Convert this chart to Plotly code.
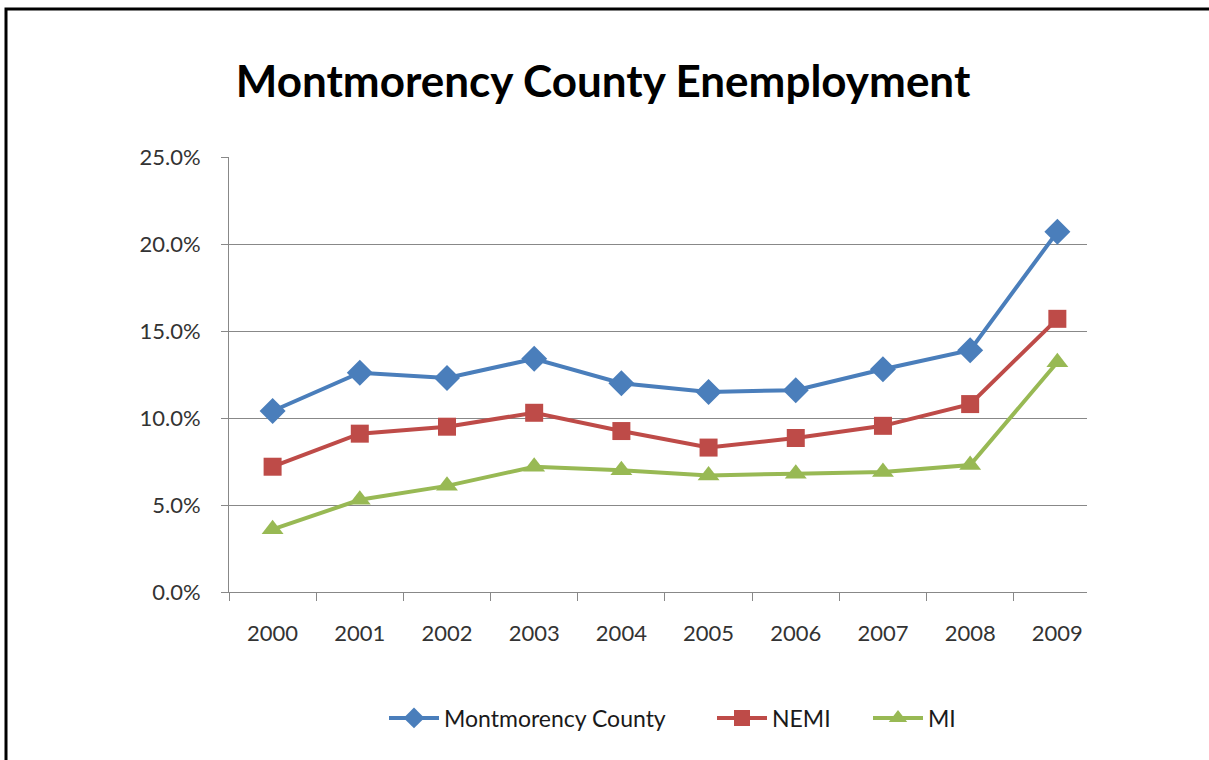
import plotly.graph_objects as go

years = ["2000", "2001", "2002", "2003", "2004", "2005", "2006", "2007", "2008", "2009"]
montmorency = [10.4, 12.6, 12.3, 13.4, 12.0, 11.5, 11.6, 12.8, 13.9, 20.7]
nemi = [7.2, 9.1, 9.5, 10.3, 9.25, 8.3, 8.85, 9.55, 10.8, 15.7]
mi = [3.6, 5.3, 6.1, 7.2, 7.0, 6.7, 6.8, 6.9, 7.3, 13.2]

series = [
    ("Montmorency County", montmorency, "#4a7ebb", "diamond", 20, "legend", 384),
    ("NEMI", nemi, "#be4b48", "square", 18, "legend2", 712),
    ("MI", mi, "#98b954", "triangle-up", 19, "legend3", 868),
]

FONT = "Lato"
W, H = 1209, 760
L, R, T, B = 229, 1087, 157, 592

fig = go.Figure()
legends = {}
for name, vals, color, symbol, size, leg, px in series:
    fig.add_trace(go.Scatter(
        x=years, y=vals, name=name, mode="lines+markers",
        line=dict(color=color, width=4),
        marker=dict(symbol=symbol, size=size, color=color),
        legend=leg,
    ))
    legends[leg] = dict(orientation="h", x=(px - L) / (R - L), xanchor="left",
                        y=(B - 718) / (B - T), yanchor="middle",
                        font=dict(size=23, color="#1a1a1a"), itemwidth=50,
                        bgcolor="rgba(0,0,0,0)")

fig.update_layout(
    width=W, height=H,
    margin=dict(l=L, r=W - R, t=T, b=H - B),
    paper_bgcolor="white", plot_bgcolor="white",
    font=dict(family=FONT, color="#333333", size=22),
    title=dict(text="<b>Montmorency County Enemployment</b>",
               x=603 / W, xanchor="center", y=1 - 82 / H, yanchor="middle",
               font=dict(size=44, color="black", family=FONT)),
    showlegend=True,
    **legends,
    xaxis=dict(type="category", range=[-0.5, 9.34], showgrid=False,
               showline=True, linecolor="#888888", linewidth=1,
               ticks="outside", ticklen=8, tickcolor="#888888",
               tickson="boundaries", ticklabelstandoff=22,
               tickfont=dict(size=22)),
    yaxis=dict(range=[0, 25], dtick=5, tickformat=".1f", ticksuffix="%",
               showgrid=True, gridcolor="#888888", gridwidth=1,
               showline=True, linecolor="#888888", linewidth=1,
               ticks="outside", ticklen=7, tickcolor="#888888",
               ticklabelstandoff=16,
               zeroline=False, tickfont=dict(size=22)),
)

# outer chart frame (left and top edges visible in the page)
fig.add_shape(type="rect", xref="paper", yref="paper",
              x0=(6 - L) / (R - L), x1=(1230 - L) / (R - L),
              y0=(B - 780) / (B - T), y1=(B - 9) / (B - T),
              line=dict(color="black", width=3), layer="below")

fig.write_html("out.html")
